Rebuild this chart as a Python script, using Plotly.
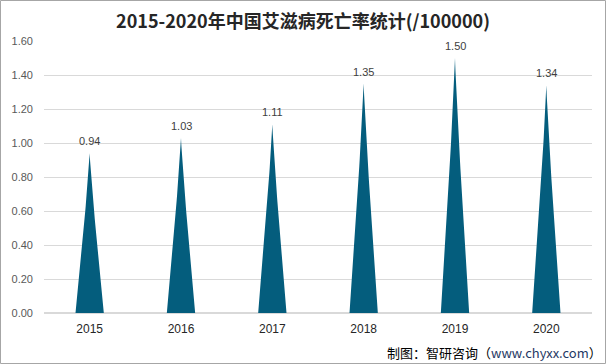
import plotly.graph_objects as go
import numpy as np

years = ["2015", "2016", "2017", "2018", "2019", "2020"]
values = [0.94, 1.03, 1.11, 1.35, 1.50, 1.34]
y_ticks = [0.0, 0.2, 0.4, 0.6, 0.8, 1.0, 1.2, 1.4, 1.6]

BAR_COLOR = "#045d7d"
HALF_W = 0.155
fig = go.Figure()

t = np.linspace(0, 1, 40)
for i, v in enumerate(values):
    w = HALF_W * (1 - t) ** 1.15
    xs = np.concatenate([i - w, (i + w)[::-1]])
    ys = np.concatenate([t * v, (t * v)[::-1]])
    fig.add_trace(go.Scatter(x=xs, y=ys, fill="toself", mode="lines",
                             line=dict(width=0, color=BAR_COLOR),
                             fillcolor=BAR_COLOR, hoverinfo="skip",
                             showlegend=False))

annotations = [dict(x=i, y=v, xref="x", yref="y", text=f"{v:.2f}",
                    showarrow=False, yanchor="middle", yshift=12,
                    font=dict(size=11, color="#404040",
                              family="Liberation Sans, Arial"))
               for i, v in enumerate(values)]
annotations.append(dict(text="制图：智研咨询（<span style='color:#1f3864'>www.chyxx.com</span>）",
                        xref="paper", yref="paper", x=1+12/548, y=-(352-313)/272,
                        xanchor="right", yanchor="middle", showarrow=False,
                        font=dict(size=13, color="#000000",
                                  family="Noto Sans CJK SC, sans-serif")))

fig.update_layout(
    width=606, height=364,
    margin=dict(l=44, r=14, t=41, b=51),
    paper_bgcolor="white", plot_bgcolor="white",
    title=dict(text="<b>2015-2020年中国艾滋病死亡率统计(/100000)</b>",
               x=0.5, xanchor="center", y=1 - 22/364, yanchor="middle",
               font=dict(size=18, color="#262626",
                         family="Noto Sans CJK SC, sans-serif")),
    xaxis=dict(range=[-0.5, 5.5], tickmode="array",
               tickvals=list(range(len(years))), ticktext=years,
               showgrid=False, zeroline=False, showline=False,
               ticks="", ticklabelstandoff=7,
               tickfont=dict(size=12, color="#262626",
                             family="Liberation Sans, Arial")),
    yaxis=dict(range=[0, 1.6], tickmode="array", tickvals=y_ticks,
               ticktext=[f"{v:.2f}" for v in y_ticks],
               showgrid=True, gridcolor="#d9d9d9", gridwidth=1,
               zeroline=True, zerolinecolor="#d9d9d9", showline=False,
               ticks="", ticklabelstandoff=10,
               tickfont=dict(size=11, color="#595959",
                             family="Liberation Sans, Arial")),
    shapes=[dict(type="rect", xref="paper", yref="paper",
                 x0=-43.5/548, x1=1+13.5/548, y0=-50.5/272, y1=1+40.5/272,
                 line=dict(color="#a6a6a6", width=1))],
    annotations=annotations,
)

fig.write_html("out.html", config={"displayModeBar": False})
with open("out.html", encoding="utf-8") as f:
    html = f.read()
html = html.replace("<body>", "<body style=\"margin:0;padding:0;overflow:hidden\">", 1)
with open("out.html", "w", encoding="utf-8") as f:
    f.write(html)
